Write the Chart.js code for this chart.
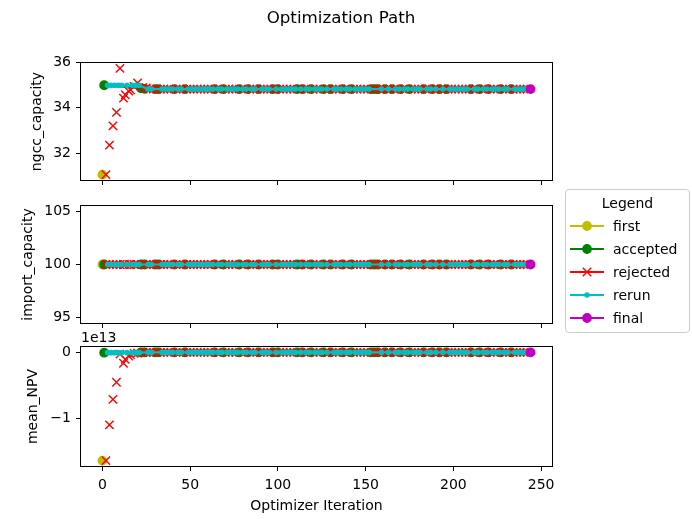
<!DOCTYPE html>
<html>
<head>
<meta charset="utf-8">
<script src="https://cdn.jsdelivr.net/npm/chart.js@4.4.0/dist/chart.umd.min.js"></script>
<style>
  body { margin: 0; background: #fff; font-family: "DejaVu Sans", sans-serif; }
  #wrap { position: relative; width: 692px; height: 519px; overflow: hidden; }
  #wrap canvas { position: absolute; left: 0; top: 0; }
  #title { position: absolute; left: 0; top: 7px; width: 682px; text-align: center;
           font-size: 16.7px; line-height: 20px; color: #000; }
  #legend { position: absolute; left: 565px; top: 189px; width: 125px; height: 144px;
            box-sizing: border-box; border: 1px solid #ccc; border-radius: 4px;
            background: rgba(255,255,255,0.8); color: #000; font-size: 14px; }
  #legend .ltitle { position: absolute; left: 0; top: 3px; width: 100%; text-align: center; line-height: 20px; }
  #legend .row { position: absolute; left: 4px; height: 16px; display: flex; align-items: center; }
  #legend .row span { margin-left: 9px; line-height: 16px; }
</style>
</head>
<body>
<div id="wrap">
  <canvas id="ngcc" width="692" height="519"></canvas>
  <canvas id="import" width="692" height="519"></canvas>
  <canvas id="npv" width="692" height="519"></canvas>
  <div id="title">Optimization Path</div>
  <div id="legend"><div class="ltitle">Legend</div></div>
</div>
<script>
// axis ticks
const xTicks = [0, 50, 100, 150, 200, 250];
const ngccTicks = [32, 34, 36];
const ngccTickLabels = ["32", "34", "36"];
const importTicks = [95, 100, 105];
const importTickLabels = ["95", "100", "105"];
const npvTicks = [-1e13, 0];
const npvTickLabels = ["\u22121", "0"];

// first point
const firstIter = [0];
const firstNgcc = [31.04];
const firstImport = [100];
const firstNpv = [-1.643e13];

// accepted points
const acceptedIter = [
  1, 22, 24, 30, 32, 41, 47, 64, 69, 78,
  83, 89, 97, 100, 111, 114, 119, 126, 130, 137,
  142, 153, 155, 157, 161, 165, 170, 175, 183, 188,
  192, 196, 210, 215, 220, 227, 233
];
const acceptedNgcc = [
  35.0, 34.87, 34.84, 34.83, 34.83, 34.83, 34.83, 34.83, 34.83, 34.83,
  34.83, 34.83, 34.83, 34.83, 34.83, 34.83, 34.83, 34.83, 34.83, 34.83,
  34.83, 34.83, 34.83, 34.83, 34.83, 34.83, 34.83, 34.83, 34.83, 34.83,
  34.83, 34.83, 34.83, 34.83, 34.83, 34.83, 34.83
];
const acceptedImport = [
  100, 100, 100, 100, 100, 100, 100, 100, 100, 100,
  100, 100, 100, 100, 100, 100, 100, 100, 100, 100,
  100, 100, 100, 100, 100, 100, 100, 100, 100, 100,
  100, 100, 100, 100, 100, 100, 100
];
const acceptedNpv = [
  1e10, 4e10, 5e10, 5e10, 5e10, 5e10, 5e10, 5e10, 5e10, 5e10,
  5e10, 5e10, 5e10, 5e10, 5e10, 5e10, 5e10, 5e10, 5e10, 5e10,
  5e10, 5e10, 5e10, 5e10, 5e10, 5e10, 5e10, 5e10, 5e10, 5e10,
  5e10, 5e10, 5e10, 5e10, 5e10, 5e10, 5e10
];

// rejected points
const rejectedIter = [
  2, 4, 6, 8, 10, 12, 13, 15, 16, 18, 20,
  23, 25, 27, 29, 31, 33, 35, 37, 39,
  42, 44, 46, 48, 50, 52, 54, 56, 58, 60, 62,
  65, 67, 70, 72, 74, 76, 79, 81, 84, 86, 88,
  90, 92, 94, 96, 98, 101, 103, 105, 107, 109, 112,
  115, 117, 120, 122, 124, 127, 129, 131, 133, 135, 138,
  140, 143, 145, 147, 149, 151, 154, 156, 158, 160, 162,
  164, 166, 168, 171, 173, 176, 178, 180, 182, 184, 186,
  189, 191, 193, 195, 197, 199, 201, 203, 205, 207, 209,
  211, 213, 216, 218, 221, 223, 225, 228, 230, 232, 234,
  236, 238, 240, 242
];
const rejectedNgcc = [
  31.04, 32.35, 33.2, 33.8, 35.75, 34.43, 34.58, 34.74, 34.8, 34.95, 35.1,
  34.9, 34.88, 34.83, 34.83, 34.83, 34.83, 34.83, 34.83, 34.83,
  34.83, 34.83, 34.83, 34.83, 34.83, 34.83, 34.83, 34.83, 34.83, 34.83, 34.83,
  34.83, 34.83, 34.83, 34.83, 34.83, 34.83, 34.83, 34.83, 34.83, 34.83, 34.83,
  34.83, 34.83, 34.83, 34.83, 34.83, 34.83, 34.83, 34.83, 34.83, 34.83, 34.83,
  34.83, 34.83, 34.83, 34.83, 34.83, 34.83, 34.83, 34.83, 34.83, 34.83, 34.83,
  34.83, 34.83, 34.83, 34.83, 34.83, 34.83, 34.83, 34.83, 34.83, 34.83, 34.83,
  34.83, 34.83, 34.83, 34.83, 34.83, 34.83, 34.83, 34.83, 34.83, 34.83, 34.83,
  34.83, 34.83, 34.83, 34.83, 34.83, 34.83, 34.83, 34.83, 34.83, 34.83, 34.83,
  34.83, 34.83, 34.83, 34.83, 34.83, 34.83, 34.83, 34.83, 34.83, 34.83, 34.83,
  34.83, 34.83, 34.83, 34.83
];
const rejectedImport = [
  100, 100, 100, 100, 100, 100, 100, 100, 100, 100, 100,
  100, 100, 100, 100, 100, 100, 100, 100, 100,
  100, 100, 100, 100, 100, 100, 100, 100, 100, 100, 100,
  100, 100, 100, 100, 100, 100, 100, 100, 100, 100, 100,
  100, 100, 100, 100, 100, 100, 100, 100, 100, 100, 100,
  100, 100, 100, 100, 100, 100, 100, 100, 100, 100, 100,
  100, 100, 100, 100, 100, 100, 100, 100, 100, 100, 100,
  100, 100, 100, 100, 100, 100, 100, 100, 100, 100, 100,
  100, 100, 100, 100, 100, 100, 100, 100, 100, 100, 100,
  100, 100, 100, 100, 100, 100, 100, 100, 100, 100, 100,
  100, 100, 100, 100
];
const rejectedNpv = [
  -1.643e13, -1.1e13, -7.1e12, -4.5e12, -2e11, -1.6e12, -1e12, -5e11, -3e11, -1e11, -4e10,
  2e10, 4e10, 5e10, 5e10, 5e10, 5e10, 5e10, 5e10, 5e10,
  5e10, 5e10, 5e10, 5e10, 5e10, 5e10, 5e10, 5e10, 5e10, 5e10, 5e10,
  5e10, 5e10, 5e10, 5e10, 5e10, 5e10, 5e10, 5e10, 5e10, 5e10, 5e10,
  5e10, 5e10, 5e10, 5e10, 5e10, 5e10, 5e10, 5e10, 5e10, 5e10, 5e10,
  5e10, 5e10, 5e10, 5e10, 5e10, 5e10, 5e10, 5e10, 5e10, 5e10, 5e10,
  5e10, 5e10, 5e10, 5e10, 5e10, 5e10, 5e10, 5e10, 5e10, 5e10, 5e10,
  5e10, 5e10, 5e10, 5e10, 5e10, 5e10, 5e10, 5e10, 5e10, 5e10, 5e10,
  5e10, 5e10, 5e10, 5e10, 5e10, 5e10, 5e10, 5e10, 5e10, 5e10, 5e10,
  5e10, 5e10, 5e10, 5e10, 5e10, 5e10, 5e10, 5e10, 5e10, 5e10, 5e10,
  5e10, 5e10, 5e10, 5e10
];

// rerun points
const rerunIter = [
  3, 5, 7, 9, 11, 14, 17, 19, 21,
  26, 28, 34, 36, 38, 40, 43, 45, 49, 51, 53,
  55, 57, 59, 61, 63, 66, 68, 71, 73, 75, 77,
  80, 82, 85, 87, 91, 93, 95, 99, 102, 104, 106,
  108, 110, 113, 116, 118, 121, 123, 125, 128, 132, 134,
  136, 139, 141, 144, 146, 148, 150, 152, 159, 163, 167,
  169, 172, 174, 177, 179, 181, 185, 187, 190, 194, 198,
  200, 202, 204, 206, 208, 212, 214, 217, 219, 222, 224,
  226, 229, 231, 235, 237, 239, 241, 243
];
const rerunNgcc = [
  35.0, 35.0, 35.0, 35.0, 35.0, 35.0, 35.0, 35.0, 35.0,
  34.83, 34.83, 34.83, 34.83, 34.83, 34.83, 34.83, 34.83, 34.83, 34.83, 34.83,
  34.83, 34.83, 34.83, 34.83, 34.83, 34.83, 34.83, 34.83, 34.83, 34.83, 34.83,
  34.83, 34.83, 34.83, 34.83, 34.83, 34.83, 34.83, 34.83, 34.83, 34.83, 34.83,
  34.83, 34.83, 34.83, 34.83, 34.83, 34.83, 34.83, 34.83, 34.83, 34.83, 34.83,
  34.83, 34.83, 34.83, 34.83, 34.83, 34.83, 34.83, 34.83, 34.83, 34.83, 34.83,
  34.83, 34.83, 34.83, 34.83, 34.83, 34.83, 34.83, 34.83, 34.83, 34.83, 34.83,
  34.83, 34.83, 34.83, 34.83, 34.83, 34.83, 34.83, 34.83, 34.83, 34.83, 34.83,
  34.83, 34.83, 34.83, 34.83, 34.83, 34.83, 34.83, 34.83
];
const rerunImport = [
  100, 100, 100, 100, 100, 100, 100, 100, 100,
  100, 100, 100, 100, 100, 100, 100, 100, 100, 100, 100,
  100, 100, 100, 100, 100, 100, 100, 100, 100, 100, 100,
  100, 100, 100, 100, 100, 100, 100, 100, 100, 100, 100,
  100, 100, 100, 100, 100, 100, 100, 100, 100, 100, 100,
  100, 100, 100, 100, 100, 100, 100, 100, 100, 100, 100,
  100, 100, 100, 100, 100, 100, 100, 100, 100, 100, 100,
  100, 100, 100, 100, 100, 100, 100, 100, 100, 100, 100,
  100, 100, 100, 100, 100, 100, 100, 100
];
const rerunNpv = [
  1e10, 1e10, 1e10, 1e10, 1e10, 1e10, 1e10, 1e10, 1e10,
  5e10, 5e10, 5e10, 5e10, 5e10, 5e10, 5e10, 5e10, 5e10, 5e10, 5e10,
  5e10, 5e10, 5e10, 5e10, 5e10, 5e10, 5e10, 5e10, 5e10, 5e10, 5e10,
  5e10, 5e10, 5e10, 5e10, 5e10, 5e10, 5e10, 5e10, 5e10, 5e10, 5e10,
  5e10, 5e10, 5e10, 5e10, 5e10, 5e10, 5e10, 5e10, 5e10, 5e10, 5e10,
  5e10, 5e10, 5e10, 5e10, 5e10, 5e10, 5e10, 5e10, 5e10, 5e10, 5e10,
  5e10, 5e10, 5e10, 5e10, 5e10, 5e10, 5e10, 5e10, 5e10, 5e10, 5e10,
  5e10, 5e10, 5e10, 5e10, 5e10, 5e10, 5e10, 5e10, 5e10, 5e10, 5e10,
  5e10, 5e10, 5e10, 5e10, 5e10, 5e10, 5e10, 5e10
];

// final point
const finalIter = [244];
const finalNgcc = [34.83];
const finalImport = [100];
const finalNpv = [5e10];

// series styles (matplotlib y, g, r, c, m)
const series = [
  { label: "first", color: "#bfbf00", marker: "circle", radius: 4.2, line: false,
    iter: firstIter, ngcc: firstNgcc, imp: firstImport, npv: firstNpv },
  { label: "accepted", color: "#008000", marker: "circle", radius: 4.2, line: true,
    iter: acceptedIter, ngcc: acceptedNgcc, imp: acceptedImport, npv: acceptedNpv },
  { label: "rejected", color: "#ff0000", marker: "crossRot", radius: 5.9, line: false,
    iter: rejectedIter, ngcc: rejectedNgcc, imp: rejectedImport, npv: rejectedNpv },
  { label: "rerun", color: "#00bfbf", marker: "circle", radius: 2.1, line: true,
    iter: rerunIter, ngcc: rerunNgcc, imp: rerunImport, npv: rerunNpv },
  { label: "final", color: "#bf00bf", marker: "circle", radius: 4.2, line: false,
    iter: finalIter, ngcc: finalNgcc, imp: finalImport, npv: finalNpv }
];

Chart.defaults.font.family = "'DejaVu Sans', sans-serif";
Chart.defaults.font.size = 14;
Chart.defaults.color = "#000";

// matplotlib-like 5% margins
function paddedRange(values) {
  let lo = Math.min(...values), hi = Math.max(...values);
  if (lo === hi) { lo = lo * 0.95; hi = hi * 1.05; }
  const m = (hi - lo) * 0.05;
  return [lo - m, hi + m];
}

const allIter = [].concat(...series.map(s => s.iter));
const xRange = paddedRange(allIter);

// box around the axes + offset text
const framePlugin = {
  id: "frame",
  afterDraw(chart, args, opts) {
    const { ctx, chartArea: a } = chart;
    ctx.save();
    ctx.strokeStyle = "#000";
    ctx.lineWidth = 1;
    ctx.strokeRect(Math.round(a.left) - 0.5, Math.round(a.top) - 0.5,
                   Math.round(a.right - a.left) + 1, Math.round(a.bottom - a.top) + 1);
    if (opts.offsetText) {
      ctx.fillStyle = "#000";
      ctx.font = "14px 'DejaVu Sans'";
      ctx.textBaseline = "alphabetic";
      ctx.textAlign = "left";
      ctx.fillText(opts.offsetText, a.left, a.top - 5);
    }
    ctx.restore();
  }
};

function makePanel(id, key, cfg) {
  const yRange = paddedRange([].concat(...series.map(s => s[key])));
  const datasets = series.map((s, i) => ({
    label: s.label,
    data: s.iter.map((x, j) => ({ x: x, y: s[key][j] })),
    showLine: s.line,
    borderColor: s.color,
    backgroundColor: s.color,
    borderWidth: 2.1,
    pointStyle: s.marker,
    pointRadius: s.radius,
    pointBorderWidth: 1.4,
    pointBorderColor: s.color,
    pointBackgroundColor: s.color,
    order: series.length - i
  }));
  return new Chart(document.getElementById(id), {
    type: "scatter",
    data: { datasets: datasets },
    options: {
      responsive: false,
      animation: false,
      events: [],
      layout: { padding: { left: cfg.padLeft, top: cfg.top, right: 140, bottom: cfg.padBottom } },
      plugins: {
        legend: { display: false },
        tooltip: { enabled: false },
        frame: { offsetText: cfg.offsetText || "" }
      },
      scales: {
        x: {
          type: "linear",
          bounds: "data",
          min: xRange[0],
          max: xRange[1],
          afterBuildTicks: s => { s.ticks = xTicks.map(v => ({ value: v })); },
          afterFit: s => { s.height = cfg.xHeight; },
          border: { display: false },
          grid: { drawOnChartArea: false, tickLength: 5, tickColor: "#000", lineWidth: 1 },
          ticks: { display: cfg.showX, color: "#000", padding: 6, maxRotation: 0, autoSkip: false },
          title: { display: cfg.showX, text: "Optimizer Iteration", color: "#000", padding: 0 }
        },
        y: {
          type: "linear",
          bounds: "data",
          min: yRange[0],
          max: yRange[1],
          afterBuildTicks: s => { s.ticks = cfg.ticks.map(v => ({ value: v })); },
          afterFit: s => { s.width = 81 - cfg.padLeft; },
          border: { display: false },
          grid: { drawOnChartArea: false, tickLength: 5, tickColor: "#000", lineWidth: 1 },
          ticks: { color: "#000", padding: 5, callback: (v, i) => cfg.tickLabels[i] },
          title: { display: true, text: cfg.label, color: "#000", padding: 0 }
        }
      }
    },
    plugins: [framePlugin]
  });
}

makePanel("ngcc", "ngcc", { label: "ngcc_capacity", padLeft: 29, top: 63, padBottom: 334, xHeight: 5,
  showX: false, ticks: ngccTicks, tickLabels: ngccTickLabels });
makePanel("import", "imp", { label: "import_capacity", padLeft: 20, top: 206, padBottom: 191, xHeight: 5,
  showX: false, ticks: importTicks, tickLabels: importTickLabels });
makePanel("npv", "npv", { label: "mean_NPV", padLeft: 25, top: 347, padBottom: 4, xHeight: 49,
  showX: true, ticks: npvTicks, tickLabels: npvTickLabels, offsetText: "1e13" });

// legend
function markerSvg(s) {
  if (s.marker === "crossRot") {
    const d = 4.2;
    return `<line x1="${17 - d}" y1="${8 - d}" x2="${17 + d}" y2="${8 + d}" stroke="${s.color}" stroke-width="1.4"/>` +
           `<line x1="${17 - d}" y1="${8 + d}" x2="${17 + d}" y2="${8 - d}" stroke="${s.color}" stroke-width="1.4"/>`;
  }
  return `<circle cx="17" cy="8" r="${s.radius}" fill="${s.color}" stroke="${s.color}" stroke-width="1.4"/>`;
}
const legend = document.getElementById("legend");
series.forEach((s, i) => {
  const row = document.createElement("div");
  row.className = "row";
  row.style.top = (28 + 23 * i) + "px";
  row.innerHTML = `<svg width="34" height="16"><line x1="0" y1="8" x2="34" y2="8" stroke="${s.color}" stroke-width="2"/>` +
    markerSvg(s) + `</svg><span>${s.label}</span>`;
  legend.appendChild(row);
});
</script>
</body>
</html>
